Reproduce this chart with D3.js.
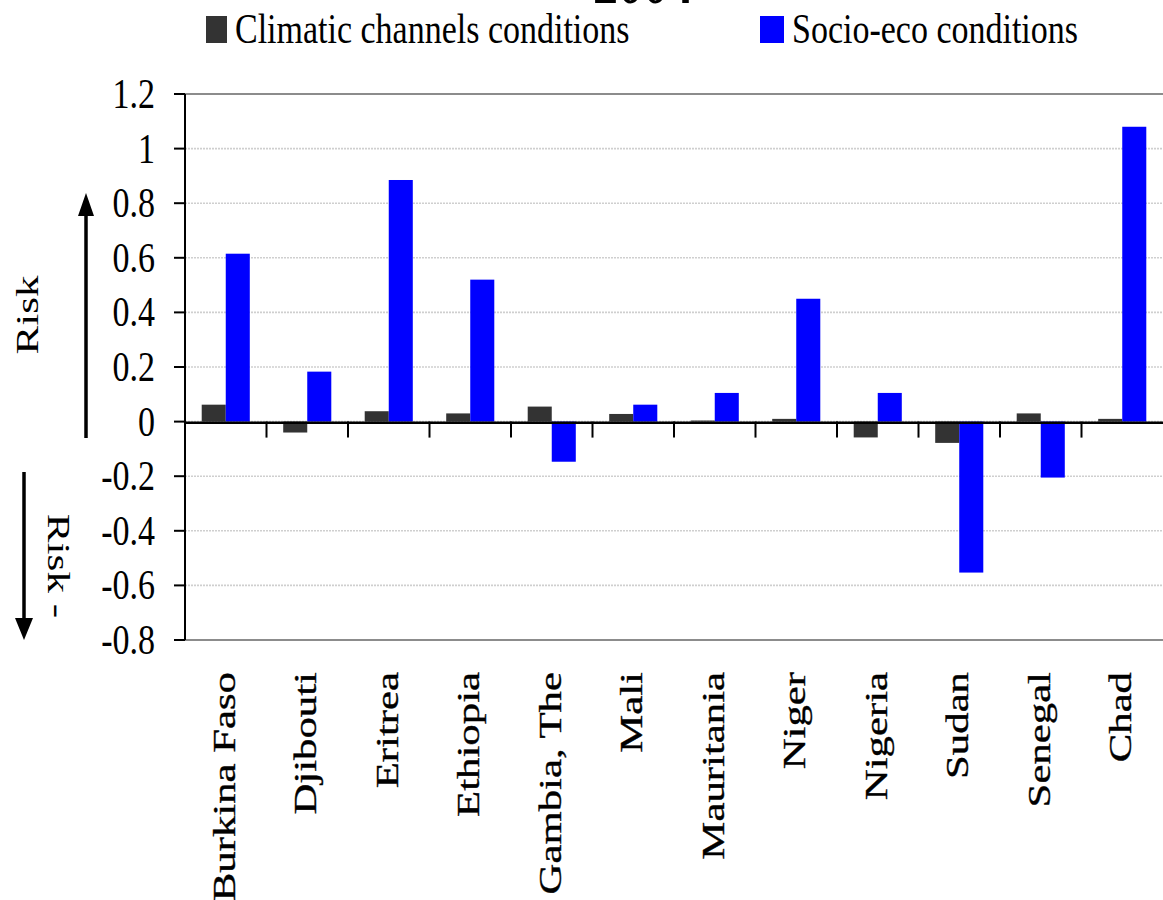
<!DOCTYPE html>
<html>
<head>
<meta charset="utf-8">
<script src="https://cdn.jsdelivr.net/npm/d3@7/dist/d3.min.js"></script>
<style>
  html, body { margin: 0; padding: 0; background: #fff; }
  svg { display: block; }
  text { font-family: "Liberation Serif", "Times New Roman", serif; fill: #000; }
</style>
</head>
<body>
<div id="chart"></div>
<script>
// Risk indicators by country, 2004
const categories = ["Burkina Faso", "Djibouti", "Eritrea", "Ethiopia", "Gambia, The", "Mali",
                    "Mauritania", "Niger", "Nigeria", "Sudan", "Senegal", "Chad"];
const climatic = [0.062, -0.04, 0.038, 0.03, 0.055, 0.028, 0.004, 0.01, -0.058, -0.078, 0.03, 0.01];
const socioEco = [0.615, 0.183, 0.885, 0.52, -0.147, 0.062, 0.105, 0.45, 0.105, -0.553, -0.205, 1.08];
const seriesNames = ["Climatic channels conditions", "Socio-eco conditions"];
const seriesColors = ["#333333", "#0000ff"];
const yTicks = [-0.8, -0.6, -0.4, -0.2, 0, 0.2, 0.4, 0.6, 0.8, 1, 1.2];
const titleText = "2004";

const W = 1163, H = 900;
const plot = { left: 185, right: 1163, top: 94, bottom: 640 };

const svg = d3.select("#chart").append("svg")
  .attr("width", W).attr("height", H);

const y = d3.scaleLinear().domain([-0.8, 1.2]).range([plot.bottom, plot.top]);
const x0 = d3.scaleBand().domain(categories).range([plot.left, plot.right]).padding(0);
const groupW = x0.bandwidth() * 0.59;
const x1 = d3.scaleBand().domain(seriesNames).range([0, groupW]).padding(0);

const rows = categories.map((c, i) => ({ cat: c, vals: [climatic[i], socioEco[i]] }));

// horizontal gridlines (dotted)
svg.append("g").selectAll("line").data(yTicks.filter(v => v > -0.8 && v < 1.2)).join("line")
  .attr("x1", plot.left).attr("x2", plot.right)
  .attr("y1", d => y(d)).attr("y2", d => y(d))
  .attr("stroke", "#cfcfcf").attr("stroke-width", 1.6).attr("stroke-dasharray", "2,1");

// plot frame top and bottom
[1.2, -0.8].forEach(v => {
  svg.append("line")
    .attr("x1", plot.left).attr("x2", plot.right)
    .attr("y1", y(v)).attr("y2", y(v))
    .attr("stroke", "#8c8c8c").attr("stroke-width", 2);
});

// bars
const groups = svg.append("g").selectAll("g").data(rows).join("g")
  .attr("transform", d => `translate(${x0(d.cat) + (x0.bandwidth() - groupW) / 2},0)`);
groups.selectAll("rect").data(d => d.vals.map((v, k) => ({ v, k }))).join("rect")
  .attr("x", d => x1(seriesNames[d.k]))
  .attr("width", x1.bandwidth())
  .attr("y", d => y(Math.max(0, d.v)))
  .attr("height", d => Math.abs(y(d.v) - y(0)))
  .attr("fill", d => seriesColors[d.k]);

// zero line and category ticks
svg.append("line")
  .attr("x1", plot.left).attr("x2", plot.right)
  .attr("y1", y(0) + 1.2).attr("y2", y(0) + 1.2)
  .attr("stroke", "#000").attr("stroke-width", 2.4);
svg.append("g").selectAll("line").data(categories.slice(1)).join("line")
  .attr("x1", d => x0(d)).attr("x2", d => x0(d))
  .attr("y1", y(0)).attr("y2", y(0) + 16)
  .attr("stroke", "#000").attr("stroke-width", 2);

// y axis
const yAxis = svg.append("g");
yAxis.append("line")
  .attr("x1", plot.left).attr("x2", plot.left)
  .attr("y1", plot.top).attr("y2", plot.bottom)
  .attr("stroke", "#000").attr("stroke-width", 2);
yAxis.selectAll("line.tick").data(yTicks).join("line").attr("class", "tick")
  .attr("x1", plot.left - 11).attr("x2", plot.left)
  .attr("y1", d => y(d)).attr("y2", d => y(d))
  .attr("stroke", "#000").attr("stroke-width", 2);
yAxis.selectAll("g.lbl").data(yTicks).join("g").attr("class", "lbl")
  .attr("transform", d => `translate(155,${y(d)}) scale(1,1.23)`)
  .append("text")
  .attr("text-anchor", "end").attr("dy", "0.335em")
  .attr("font-size", 34)
  .text(d => String(Math.round(d * 10) / 10));

// category labels (rotated)
svg.append("g").selectAll("g").data(categories).join("g")
  .attr("transform", d => `translate(${x0(d) + x0.bandwidth() / 2 + 9},672) rotate(-90) scale(1.38,1)`)
  .append("text")
  .attr("text-anchor", "end")
  .attr("font-size", 31)
  .attr("stroke", "#000").attr("stroke-width", 0.35)
  .text(d => d);

// legend
const legendX = [206, 760];
const legend = svg.append("g");
seriesNames.forEach((name, k) => {
  legend.append("rect")
    .attr("x", legendX[k]).attr("y", 16)
    .attr("width", k === 0 ? 21 : 24).attr("height", 27)
    .attr("fill", seriesColors[k]);
  legend.append("g")
    .attr("transform", `translate(${legendX[k] + (k === 0 ? 29 : 32)},43) scale(1,1.26)`)
    .append("text").attr("font-size", 34).text(name);
});

// title (sits mostly above the page edge)
svg.append("g").attr("transform", "translate(643,3) scale(1,1.25)")
  .append("text").attr("text-anchor", "middle")
  .attr("font-size", 50).attr("font-weight", "bold").text(titleText);

// risk direction markers
const marks = svg.append("g");
marks.append("line").attr("x1", 86).attr("x2", 86).attr("y1", 438).attr("y2", 210)
  .attr("stroke", "#000").attr("stroke-width", 3.5);
marks.append("path").attr("d", "M86,193 L78,216 L94,216 Z").attr("fill", "#000");
marks.append("line").attr("x1", 24).attr("x2", 24).attr("y1", 472).attr("y2", 622)
  .attr("stroke", "#000").attr("stroke-width", 3.5);
marks.append("path").attr("d", "M24,640 L15,618 L33,618 Z").attr("fill", "#000");

marks.append("g").attr("transform", "translate(38,315) rotate(-90) scale(1.35,1)")
  .append("text").attr("text-anchor", "middle").attr("font-size", 32).text("Risk");
marks.append("g").attr("transform", "translate(48,566) rotate(90) scale(1.35,1)")
  .append("text").attr("text-anchor", "middle").attr("font-size", 32).text("Risk -");
</script>
</body>
</html>
